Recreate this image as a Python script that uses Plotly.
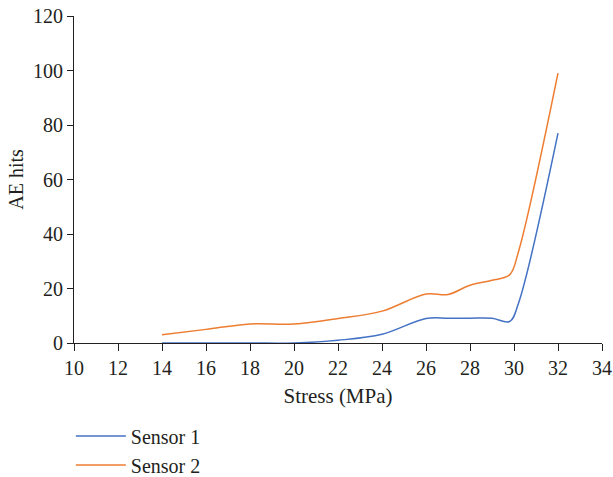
import plotly.graph_objects as go

stress = [14, 16, 18, 20, 22, 24, 26, 27, 28, 29, 29.8, 30.2, 32]
sensor1 = [0, 0, 0, 0, 1, 3.2, 9, 9.1, 9.1, 9.1, 7.9, 14.5, 77]
sensor2 = [3, 5, 7, 7, 9, 11.7, 18, 17.8, 21.2, 23, 25, 33.4, 99]

x_ticks = list(range(10, 35, 2))
y_ticks = list(range(0, 121, 20))

FONT = "Liberation Serif"
INK = "#231f20"

fig = go.Figure()
fig.add_trace(go.Scatter(x=stress, y=sensor1, mode="lines", name="Sensor 1",
                         line=dict(color="#4472C4", width=1.5, shape="spline", smoothing=1)))
fig.add_trace(go.Scatter(x=stress, y=sensor2, mode="lines", name="Sensor 2",
                         line=dict(color="#ED7D31", width=1.5, shape="spline", smoothing=1)))

fig.update_layout(
    width=613, height=477,
    margin=dict(l=74, r=11, t=16, b=134, autoexpand=False),
    paper_bgcolor="white", plot_bgcolor="white",
    font=dict(family=FONT, size=20, color=INK),
    showlegend=True,
    legend=dict(x=-0.006, xanchor="left", y=-0.225, yanchor="top",
                font=dict(family=FONT, size=20, color=INK),
                itemwidth=50, bgcolor="rgba(0,0,0,0)"),
    xaxis=dict(range=[10, 34], tickvals=x_ticks, ticks="outside", ticklen=7,
               tickcolor=INK, showline=True, linecolor=INK, linewidth=1,
               showgrid=False, zeroline=False, automargin=False,
               tickfont=dict(size=20),
               title=dict(text="Stress (MPa)", font=dict(family=FONT, size=21), standoff=10)),
    yaxis=dict(range=[0, 120], tickvals=y_ticks, ticks="outside", ticklen=6,
               tickcolor=INK, showline=True, linecolor=INK, linewidth=1,
               showgrid=False, zeroline=False, automargin=False,
               tickfont=dict(size=20),
               title=dict(text="AE hits", font=dict(family=FONT, size=20), standoff=4)),
)

fig.write_html("out.html")
